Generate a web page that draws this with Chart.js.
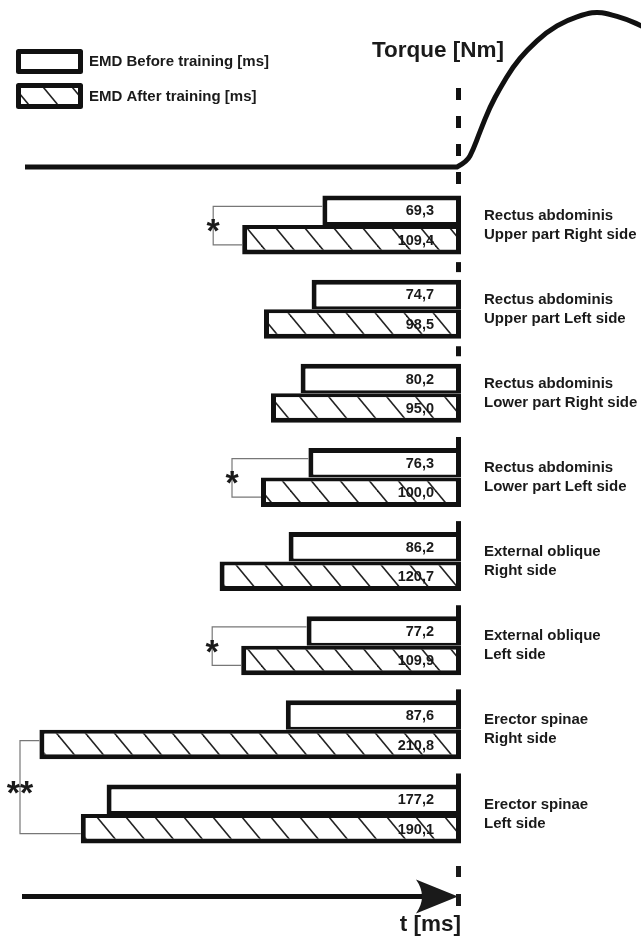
<!DOCTYPE html>
<html>
<head>
<meta charset="utf-8">
<script src="https://cdn.jsdelivr.net/npm/chart.js@4.4.1/dist/chart.umd.min.js"></script>
<style>
  html, body { margin: 0; padding: 0; background: #fff; }
  #wrap { width: 641px; height: 938px; position: relative; }
</style>
</head>
<body>
<div id="wrap"><canvas id="c" width="641" height="938"></canvas></div>
<script>
// Muscles (two-line labels), in drawing order from top to bottom
const muscles = [
  ['Rectus abdominis', 'Upper part Right side'],
  ['Rectus abdominis', 'Upper part Left side'],
  ['Rectus abdominis', 'Lower part Right side'],
  ['Rectus abdominis', 'Lower part Left side'],
  ['External oblique', 'Right side'],
  ['External oblique', 'Left side'],
  ['Erector spinae', 'Right side'],
  ['Erector spinae', 'Left side']
];
// Electromechanical delay, ms
const emdBefore = [69.3, 74.7, 80.2, 76.3, 86.2, 77.2, 87.6, 177.2];
const emdAfter  = [109.4, 98.5, 95.0, 100.0, 120.7, 109.9, 210.8, 190.1];
const seriesNames = ['EMD Before training [ms]', 'EMD After training [ms]'];

// Significance brackets: endpoints as [category index, dataset index]
const sigFrom  = [[0, 0], [3, 0], [5, 0], [6, 1]];
const sigTo    = [[0, 1], [3, 1], [5, 1], [7, 1]];
const sigMarks = ['*', '*', '*', '**'];

// Torque trace: time relative to torque onset (ms, positive = before onset)
// and torque normalised to its peak
const torqueTime  = [218, 2, -3, -6, -9.5, -14.5, -19.5, -26, -33, -43, -53, -63, -68, -73, -83, -92];
const torqueLevel = [0, 0, 0.034, 0.11, 0.228, 0.389, 0.508, 0.647, 0.755, 0.873, 0.948, 0.99, 1.0, 0.99, 0.953, 0.9];

const FONT = "'Liberation Sans', Arial, Helvetica, sans-serif";
const INK = '#111';

function fmt(v) { return v.toFixed(1).replace('.', ','); }

// Diagonal "\" hatching tile
function makeHatch() {
  const w = 29, h = 35;
  const t = document.createElement('canvas');
  t.width = w; t.height = h;
  const g = t.getContext('2d');
  g.fillStyle = '#fff';
  g.fillRect(0, 0, w, h);
  g.strokeStyle = '#222';
  g.lineWidth = 1.6;
  [[0, 0], [w, 0], [-w, 0], [0, h], [0, -h]].forEach(([dx, dy]) => {
    g.beginPath();
    g.moveTo(dx, dy);
    g.lineTo(dx + w, dy + h);
    g.stroke();
  });
  return g.createPattern(t, 'repeat');
}
const hatch = makeHatch();

function barRect(chart, cat, ds) {
  const el = chart.getDatasetMeta(ds).data[cat];
  const left = Math.min(el.x, el.base), right = Math.max(el.x, el.base);
  return { left, right, top: el.y - el.height / 2, bottom: el.y + el.height / 2, cy: el.y };
}

const schematic = {
  id: 'schematic',
  afterDatasetsDraw(chart) {
    const ctx = chart.ctx;
    const xs = chart.scales.x, ys = chart.scales.y;
    const zero = xs.getPixelForValue(0);
    const lineX = zero - 2.5;
    const area = chart.chartArea;

    ctx.save();

    // Value labels inside the bars
    ctx.font = `bold 14.5px ${FONT}`;
    ctx.fillStyle = '#1a1a1a';
    ctx.textAlign = 'right';
    ctx.textBaseline = 'middle';
    [emdBefore, emdAfter].forEach((vals, ds) => {
      vals.forEach((v, i) => {
        const r = barRect(chart, i, ds);
        ctx.fillText(fmt(v), zero - 27, r.cy + 1);
      });
    });

    // Onset marker between / above the bar groups
    ctx.fillStyle = INK;
    [0.5, 1.5].forEach(b => {
      const y = ys.getPixelForValue(b);
      ctx.fillRect(zero - 5, y - 5, 5, 10);
    });
    for (let i = 3; i < muscles.length; i++) {
      const r = barRect(chart, i, 0);
      ctx.fillRect(zero - 5, r.top - 11, 5, 12);
    }

    // Significance brackets
    sigFrom.forEach((from, k) => {
      const to = sigTo[k];
      const a = barRect(chart, from[0], from[1]);
      const b = barRect(chart, to[0], to[1]);
      const ya = a.cy - 4, yb = b.cy + 5;
      const vx = Math.max(Math.min(a.left, b.left) - 29, 20);
      ctx.strokeStyle = '#777';
      ctx.lineWidth = 1.2;
      ctx.beginPath();
      ctx.moveTo(a.left, ya);
      ctx.lineTo(vx, ya);
      ctx.lineTo(vx, yb);
      ctx.lineTo(b.left, yb);
      ctx.stroke();

      ctx.font = `bold 34px ${FONT}`;
      ctx.textAlign = 'center';
      ctx.textBaseline = 'alphabetic';
      const m = ctx.measureText(sigMarks[k]);
      ctx.fillStyle = '#1a1a1a';
      ctx.fillText(sigMarks[k], vx, (ya + yb) / 2 + m.actualBoundingBoxAscent - (m.actualBoundingBoxAscent + m.actualBoundingBoxDescent) / 2);
    });

    // Torque trace above the bars
    const base = area.top - 16, amp = 155;
    const pts = torqueTime.map((t, i) => [xs.getPixelForValue(t), base - torqueLevel[i] * amp]);
    ctx.strokeStyle = INK;
    ctx.lineWidth = 5;
    ctx.lineJoin = 'round';
    ctx.lineCap = 'butt';
    ctx.beginPath();
    ctx.moveTo(pts[0][0], pts[0][1]);
    ctx.lineTo(pts[1][0], pts[1][1]);
    for (let i = 2; i < pts.length - 1; i++) {
      const mx = (pts[i][0] + pts[i + 1][0]) / 2, my = (pts[i][1] + pts[i + 1][1]) / 2;
      ctx.quadraticCurveTo(pts[i][0], pts[i][1], mx, my);
    }
    ctx.lineTo(pts[pts.length - 1][0], pts[pts.length - 1][1]);
    ctx.stroke();

    // Dashed onset line through the torque trace
    ctx.setLineDash([12, 16]);
    ctx.beginPath();
    ctx.moveTo(lineX, 88);
    ctx.lineTo(lineX, area.top + 4);
    ctx.stroke();
    ctx.setLineDash([]);

    // Dashes below the bars
    ctx.fillRect(zero - 5, area.bottom + 10, 5, 11);
    ctx.fillRect(zero - 5, area.bottom + 38, 5, 12);

    // Time arrow
    const ay = area.bottom + 40.5;
    const tip = zero - 3;
    ctx.lineWidth = 5;
    ctx.beginPath();
    ctx.moveTo(22, ay);
    ctx.lineTo(tip - 30, ay);
    ctx.stroke();
    ctx.beginPath();
    ctx.moveTo(tip, ay);
    ctx.lineTo(tip - 42, ay - 17);
    ctx.quadraticCurveTo(tip - 30, ay, tip - 42, ay + 17);
    ctx.closePath();
    ctx.fill();

    // Axis captions
    ctx.fillStyle = '#1a1a1a';
    ctx.textBaseline = 'middle';
    ctx.textAlign = 'right';
    ctx.font = `bold 22.5px ${FONT}`;
    ctx.fillText('t [ms]', zero, area.bottom + 69);
    ctx.textAlign = 'left';
    ctx.font = `bold 22.5px ${FONT}`;
    ctx.fillText('Torque [Nm]', zero - 89, 51);

    // Legend
    ctx.font = `bold 15px ${FONT}`;
    ctx.textBaseline = 'middle';
    const boxes = [[16, 49, 67, 25], [16, 83, 67, 26]];
    chart.data.datasets.forEach((d, k) => {
      const [bx, by, bw, bh] = boxes[k];
      ctx.fillStyle = d.backgroundColor;
      ctx.fillRect(bx, by, bw, bh);
      ctx.strokeStyle = INK;
      ctx.lineWidth = 5;
      ctx.strokeRect(bx + 2.5, by + 2.5, bw - 5, bh - 5);
      ctx.fillStyle = '#1a1a1a';
      ctx.fillText(d.label, bx + bw + 6, by + bh / 2 + 0.5);
    });

    ctx.restore();
  }
};

new Chart(document.getElementById('c').getContext('2d'), {
  type: 'bar',
  data: {
    labels: muscles,
    datasets: [
      {
        label: seriesNames[0],
        data: emdBefore,
        backgroundColor: '#fff',
        borderColor: INK,
        borderWidth: { top: 5, left: 5, right: 5, bottom: 3 },
        borderSkipped: false
      },
      {
        label: seriesNames[1],
        data: emdAfter,
        backgroundColor: hatch,
        borderColor: INK,
        borderWidth: { top: 4, left: 5, right: 5, bottom: 5 },
        borderSkipped: false
      }
    ]
  },
  options: {
    indexAxis: 'y',
    responsive: false,
    animation: false,
    devicePixelRatio: 1,
    layout: { padding: { left: 15, top: 183, bottom: 82, right: 0 } },
    datasets: { bar: { categoryPercentage: 0.70, barPercentage: 1.0 } },
    scales: {
      x: { type: 'linear', min: 0, max: 223, reverse: true, display: false },
      y: {
        position: 'right',
        grid: { display: false, drawTicks: false },
        border: { display: false },
        afterFit(scale) { scale.width = 180; },
        ticks: {
          padding: 23,
          color: '#1a1a1a',
          font: { family: FONT, size: 15, weight: 'bold', lineHeight: 1.27 }
        }
      }
    },
    plugins: { legend: { display: false }, tooltip: { enabled: false } }
  },
  plugins: [schematic]
});
</script>
</body>
</html>
